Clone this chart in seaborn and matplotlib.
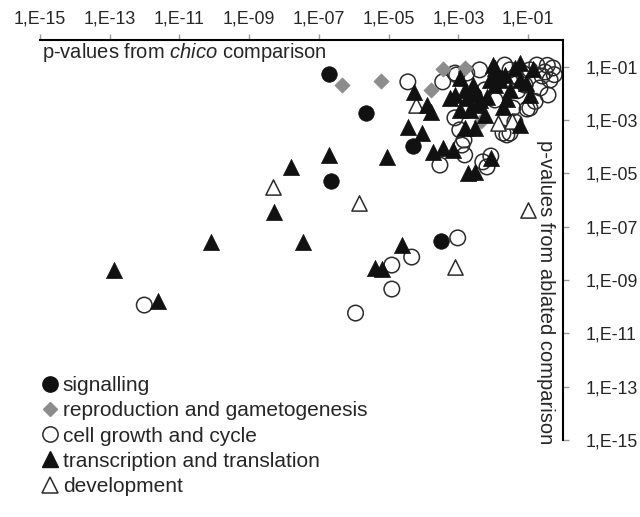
import numpy as np
import pandas as pd
import seaborn as sns
import matplotlib.pyplot as plt
from matplotlib.lines import Line2D
from matplotlib.ticker import FixedLocator, FuncFormatter

# log10 p-values: x = chico comparison, y = ablated comparison
signalling_chico = [-6.70, -5.66, -4.31, -6.64, -3.51, -1.81, -2.55]
signalling_ablated = [-1.27, -2.74, -3.97, -5.29, -7.54, -1.42, -2.05]

reproduction_chico = [-6.35, -5.23, -3.79, -3.45, -2.82, -2.36]
reproduction_ablated = [-1.69, -1.54, -1.87, -1.09, -1.05, -3.05]

cell_chico = [-12.01, -5.95, -4.91, -4.91, -4.34, -3.02, -4.45, -3.45, -3.05, -3.10,
              -2.96, -2.84, -2.82, -3.53, -2.18, -2.07, -2.30, -2.90, -1.61, -1.72,
              -1.03, -1.44, -0.95, -1.38, -3.10, -2.76, -1.52, -1.15, -0.95, -0.75,
              -0.52, -0.37, -0.66, -0.29, -0.43, -1.09, -1.67, -2.39, -2.24, -1.95,
              -1.52, -0.60, -0.45, -0.25, -1.30, -0.80]
cell_ablated = [-9.94, -10.24, -9.34, -8.44, -8.14, -7.42, -1.57, -1.57, -1.31, -2.92,
                -3.37, -3.75, -4.31, -4.69, -4.76, -4.35, -4.57, -3.94, -3.56, -3.49,
                -2.59, -2.55, -2.55, -3.07, -1.24, -1.24, -1.12, -1.24, -1.12, -0.94,
                -1.20, -1.50, -1.80, -1.05, -2.06, -1.69, -0.94, -1.12, -1.87, -2.25,
                -3.49, -1.35, -0.95, -1.30, -1.90, -2.30]

transcription_chico = [-12.87, -11.61, -10.09, -8.28, -7.79, -7.47, -6.70, -5.06, -4.63, -5.40,
                       -5.20, -4.45, -4.05, -4.28, -3.91, -3.79, -3.74, -3.45, -3.16, -2.82,
                       -2.53, -2.73, -2.53, -2.07, -1.24, -2.96, -3.25, -2.76, -2.59, -2.01,
                       -1.24, -2.82, -2.18, -1.72, -1.95, -1.38, -1.81, -1.52, -2.10, -2.44,
                       -0.95, -1.60, -3.10, -2.67, -2.39, -1.95, -1.67, -1.24, -2.24, -2.96,
                       -1.05, -0.85]
transcription_ablated = [-8.62, -9.79, -7.57, -6.45, -4.76, -7.57, -4.31, -4.39, -7.69, -8.55,
                         -8.59, -3.26, -3.49, -1.95, -2.44, -2.70, -4.20, -4.05, -4.12, -3.30,
                         -3.30, -4.99, -4.95, -4.42, -3.19, -1.42, -2.17, -2.17, -1.69, -0.94,
                         -0.86, -1.87, -2.14, -2.51, -1.05, -1.05, -1.50, -1.87, -1.50, -2.44,
                         -2.06, -2.20, -2.06, -2.62, -2.25, -1.69, -1.31, -1.50, -2.81, -2.62,
                         -1.60, -1.10]

development_chico = [-4.22, -5.86, -8.33, -1.01, -3.10, -1.87, -1.47]
development_ablated = [-2.44, -6.11, -5.51, -6.37, -8.51, -3.11, -3.04]

categories = ["signalling", "reproduction and gametogenesis", "cell growth and cycle",
              "transcription and translation", "development"]
tick_exponents = [-15, -13, -11, -9, -7, -5, -3, -1]

frames = []
for cat, xs, ys in zip(categories,
                       [signalling_chico, reproduction_chico, cell_chico, transcription_chico, development_chico],
                       [signalling_ablated, reproduction_ablated, cell_ablated, transcription_ablated, development_ablated]):
    frames.append(pd.DataFrame({"category": cat, "chico": 10.0 ** np.array(xs), "ablated": 10.0 ** np.array(ys)}))
df = pd.concat(frames, ignore_index=True)

styles = {
    "cell growth and cycle": dict(marker="o", s=125, color="none", edgecolor="#2b2b2b", linewidth=1.1, zorder=2),
    "development": dict(marker="^", s=120, color="white", edgecolor="#2b2b2b", linewidth=1.1, zorder=3),
    "reproduction and gametogenesis": dict(marker="D", s=60, color="#8c8c8c", edgecolor="#8c8c8c", linewidth=0.5, zorder=4),
    "signalling": dict(marker="o", s=125, color="#111111", edgecolor="#111111", linewidth=0.5, zorder=5),
    "transcription and translation": dict(marker="^", s=135, color="#111111", edgecolor="#111111", linewidth=0.5, zorder=6),
}

sns.set_style("white")
plt.rcParams['font.family'] = ['Liberation Sans', 'DejaVu Sans']
plt.rcParams['mathtext.fontset'] = 'custom'
plt.rcParams['mathtext.rm'] = 'Liberation Sans'
plt.rcParams['mathtext.it'] = 'Liberation Sans:italic'

fig = plt.figure(figsize=(6.4, 5.17), dpi=100)
ax = fig.add_axes([40 / 640, 1 - 440 / 517, (563 - 40) / 640, 400 / 517])

for cat in ["cell growth and cycle", "development", "reproduction and gametogenesis",
            "signalling", "transcription and translation"]:
    st = styles[cat]
    sns.scatterplot(data=df[df["category"] == cat], x="chico", y="ablated", ax=ax,
                    marker=st["marker"], s=st["s"], facecolor=st["color"],
                    edgecolor=st["edgecolor"], linewidth=st["linewidth"],
                    zorder=st["zorder"], legend=False, clip_on=False)

ax.set_xscale("log")
ax.set_yscale("log")
ax.set_xlim(1e-15, 1)
ax.set_ylim(1e-15, 1)
ax.set_xlabel("")
ax.set_ylabel("")

ticks = [10.0 ** e for e in tick_exponents]
fmt = FuncFormatter(lambda v, pos: "1,E-%02d" % int(round(-np.log10(v))))
ax.xaxis.set_major_locator(FixedLocator(ticks))
ax.yaxis.set_major_locator(FixedLocator(ticks))
ax.xaxis.set_major_formatter(fmt)
ax.yaxis.set_major_formatter(fmt)
ax.minorticks_off()
ax.xaxis.tick_top()
ax.yaxis.tick_right()
ax.tick_params(axis="x", direction="out", length=4, width=1, color="#999999", labelsize=12.8, pad=5)
ax.tick_params(axis="y", direction="out", length=4, width=1, color="#999999", labelsize=12.8, pad=12)

for side in ["left", "bottom"]:
    ax.spines[side].set_visible(False)
for side in ["top", "right"]:
    ax.spines[side].set_visible(True)
    ax.spines[side].set_color("black")
    ax.spines[side].set_linewidth(1.5)

fig.text(42 / 640, 1 - 52 / 517, r"p-values from $\mathit{chico}$ comparison",
         fontsize=14.5, ha="left", va="center")
fig.text(546 / 640, 1 - 292 / 517, "p-values from ablated comparison",
         fontsize=14.5, rotation=-90, ha="center", va="center")

handles = [
    Line2D([], [], ls="", marker="o", markersize=11, markerfacecolor="#111111", markeredgecolor="#111111"),
    Line2D([], [], ls="", marker="D", markersize=7.5, markerfacecolor="#8c8c8c", markeredgecolor="#8c8c8c"),
    Line2D([], [], ls="", marker="o", markersize=11, markerfacecolor="white", markeredgecolor="#2b2b2b", markeredgewidth=1.1),
    Line2D([], [], ls="", marker="^", markersize=11, markerfacecolor="#111111", markeredgecolor="#111111"),
    Line2D([], [], ls="", marker="^", markersize=11, markerfacecolor="white", markeredgecolor="#2b2b2b", markeredgewidth=1.1),
]
fig.legend(handles, categories, loc="upper left", bbox_to_anchor=(42 / 640, 1 - 376 / 517),
           frameon=False, fontsize=15, handlelength=0.8, handletextpad=0.2,
           labelspacing=0.3, borderpad=0, borderaxespad=0)

fig.savefig("out.png", dpi=100)
